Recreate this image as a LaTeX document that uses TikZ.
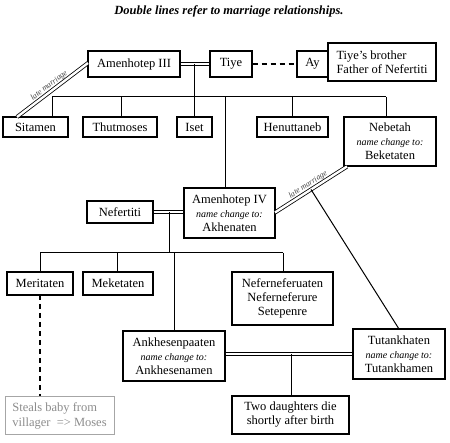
\documentclass[tikz,border=0pt]{standalone}
\usepackage{fontspec}
\setmainfont{Liberation Serif}
\newcommand{\nchg}{\fontsize{10}{11}\selectfont\itshape name change to:}
\begin{document}
\begin{tikzpicture}[x=1pt,y=-1pt,
  box/.style={draw, line width=1.1pt, inner sep=1pt, align=center,
    font=\fontsize{12.5}{14}\selectfont},
  graybox/.style={draw=black!35, line width=1pt, inner sep=1pt, align=left,
    text=black!45, font=\fontsize{12.5}{15}\selectfont},
  link/.style={line width=1pt},
  marr/.style={double, double distance=2.4pt, line width=0.8pt},
  dsh/.style={line width=1.1pt, dash pattern=on 5pt off 4pt},
  lbl/.style={font=\fontsize{8}{9}\selectfont\itshape, text=black!75, sloped, above, inner sep=1.5pt}]
\useasboundingbox (0,0) rectangle (450,443);
\node[font=\fontsize{12.5}{14}\selectfont\bfseries\itshape] (title) at (229,11) {Double lines refer to marriage relationships.};
% generation 1
\node[box, minimum width=92pt, minimum height=26pt] (a3) at (134,64) {Amenhotep III};
\node[box, minimum width=42pt, minimum height=26pt] (tiye) at (231,64) {Tiye};
\node[box, minimum width=31pt, minimum height=26pt] (ay) at (312.5,64) {Ay};
\node[box, minimum width=108pt, minimum height=38pt, align=left] (bro) at (382,62) {Tiye’s brother\\Father of Nefertiti};
% generation 2
\node[box, minimum width=65pt, minimum height=20pt] (sit) at (35.5,127) {Sitamen};
\node[box, minimum width=74pt, minimum height=20pt] (thu) at (120,127) {Thutmoses};
\node[box, minimum width=35pt, minimum height=20pt] (iset) at (194.5,127) {Iset};
\node[box, minimum width=71pt, minimum height=20pt] (hen) at (292.5,127) {Henuttaneb};
\node[box, minimum width=92pt, minimum height=49pt] (neb) at (390,141.5) {Nebetah\\{\nchg}\\Beketaten};
\node[box, minimum width=91pt, minimum height=50pt] (a4) at (229.5,213) {Amenhotep IV\\{\nchg}\\Akhenaten};
\node[box, minimum width=66pt, minimum height=22pt] (nef) at (120,212) {Nefertiti};
% generation 3
\node[box, minimum width=66pt, minimum height=23pt] (mer) at (40,283.5) {Meritaten};
\node[box, minimum width=70pt, minimum height=23pt] (mek) at (118,283.5) {Meketaten};
\node[box, minimum width=101pt, minimum height=53pt] (nfr) at (282.5,298.5) {Neferneferuaten\\Neferneferure\\Setepenre};
\node[box, minimum width=102pt, minimum height=50pt] (ank) at (174,356) {Ankhesenpaaten\\{\nchg}\\Ankhesenamen};
\node[box, minimum width=92pt, minimum height=50pt] (tut) at (399,354) {Tutankhaten\\{\nchg}\\Tutankhamen};
\node[box, minimum width=117pt, minimum height=38pt] (two) at (290.5,415) {Two daughters die\\shortly after birth};
\node[graybox, minimum width=109pt, minimum height=38pt] (steal) at (59.5,416) {Steals baby from\\villager\ \ => Moses};
% marriage a3 - tiye
\draw[marr] (a3.east) -- (tiye.east -| tiye.west);
\coordinate (m1) at (194,64);
\draw[dsh] (tiye.east) -- (ay.west);
\draw[link] (m1) -- (iset.north -| m1);
\coordinate (b1L) at (52,97);
\coordinate (b1R) at (386,97);
\coordinate (b1A) at (225,97);
\draw[link] (b1L) -- (b1R);
\draw[link] (b1L) -- (b1L |- sit.north);
\draw[link] (121,97) coordinate (b1T) -- (b1T |- thu.north);
\draw[link] (292,97) coordinate (b1H) -- (b1H |- hen.north);
\draw[link] (b1R) -- (b1R |- neb.north);
\draw[link] (b1A) -- (b1A |- a4.north);
% late marriage 1
\coordinate (lm1a) at (88,63);
\coordinate (lm1b) at (17,117);
\draw[marr] (lm1a) -- node[lbl, pos=0.5] {late marriage} (lm1b);
% nefertiti - a4
\draw[marr] (nef.east) -- (a4.west |- nef.east);
\coordinate (m2) at (169,212);
\coordinate (b2L) at (40,253);
\coordinate (b2R) at (283,253);
\draw[link] (m2) -- (m2 |- b2L);
\draw[link] (b2L) -- (b2R);
\draw[link] (b2L) -- (b2L |- mer.north);
\draw[link] (117,253) coordinate (b2M) -- (b2M |- mek.north);
\draw[link] (174,253) coordinate (b2A) -- (b2A |- ank.north);
\draw[link] (b2R) -- (b2R |- nfr.north);
% late marriage 2
\coordinate (lm2a) at (275,212.5);
\coordinate (lm2b) at (347,166.5);
\draw[marr] (lm2a) -- node[lbl, pos=0.5] {late marriage} coordinate[pos=0.5] (lm2m) (lm2b);
\coordinate (tutt) at (399,329);
\draw[link] (lm2m) -- (tutt);
% ankh - tut
\draw[marr] (ank.east |- tut.west) -- (tut.west);
\coordinate (m3) at (291,354);
\draw[link] (m3) -- (m3 |- two.north);
% meritaten -> steals
\coordinate (dm) at (40,295);
\draw[dsh] (dm) -- (dm |- steal.north);
\end{tikzpicture}
\end{document}
